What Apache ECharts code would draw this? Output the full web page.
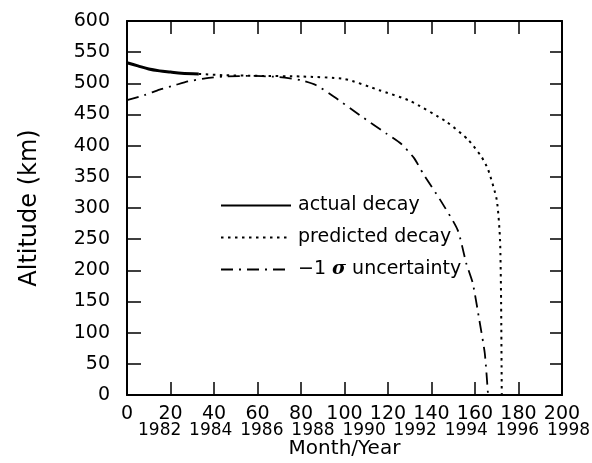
<!DOCTYPE html>
<html>
<head>
<meta charset="utf-8">
<script src="https://cdn.jsdelivr.net/npm/echarts@6/dist/echarts.min.js"></script>
<style>
  html, body { margin: 0; padding: 0; background: #fff; }
  #chart { width: 592px; height: 463px; }
</style>
</head>
<body>
<div id="chart"></div>
<script>
// months since launch vs altitude (km)
var actualMonths = [0, 5, 10, 15, 20, 25, 33]
var actualAlt = [533, 528, 523, 520, 518, 516, 515]

var predictedMonths = [33, 45, 60, 80, 100, 116, 130, 147, 157, 163, 166, 170, 171.5, 172, 172.3]
var predictedAlt = [515, 513, 512, 511, 507, 489, 472, 438, 409, 382, 362, 313, 250, 150, 0]

var uncertMonths = [0, 8, 15, 22, 28, 36, 45, 58, 70, 80, 87, 95, 107, 119, 126, 132, 136, 144, 152, 156, 159, 162, 164.5, 166]
var uncertAlt = [473, 481, 490, 497, 503, 508, 511, 512, 510, 505, 497, 479, 449, 420, 403, 380, 356, 313, 265, 211, 179, 120, 67, 0]

// year row under the month labels: month position of each year label
var yearMonths = [15, 38.5, 62, 85.5, 109, 132.5, 156, 179.5, 203]
var yearLabels = ['1982', '1984', '1986', '1988', '1990', '1992', '1994', '1996', '1998']

function pairs(xs, ys) {
  return xs.map(function(x, i) { return [x, ys[i]] })
}

var font = 'DejaVu Sans'
var chart = echarts.init(document.getElementById('chart'))

var tickStyle = { color: '#000', width: 1.5 }
var frameLine = { show: true, onZero: false, lineStyle: { color: '#000', width: 2 } }

chart.setOption({
  animation: false,
  grid: [
    { left: 127, right: 30, top: 21, bottom: 68, containLabel: false, outerBoundsMode: 'none' },
    // same scale, a bit wider, only to carry the year labels
    { left: 127, right: 8.25, top: 21, bottom: 68, containLabel: false, outerBoundsMode: 'none' }
  ],
  legend: {
    orient: 'vertical',
    left: 215,
    top: 191,
    itemWidth: 70,
    itemHeight: 10,
    itemGap: 13,
    itemStyle: { opacity: 0 },
    textStyle: {
      fontFamily: font,
      fontSize: 19,
      lineHeight: 19,
      color: '#000',
      padding: [0, 0, 0, 2],
      rich: {
        s: { fontFamily: 'DejaVu Serif', fontStyle: 'italic', fontWeight: 'bold', fontSize: 19, color: '#000' }
      }
    },
    formatter: function(name) {
      if (name === 'uncert') return '−1 {s|σ} uncertainty'
      return name
    },
    data: ['actual decay', 'predicted decay', 'uncert']
  },
  xAxis: [
    {
      type: 'value',
      min: 0,
      max: 200,
      interval: 20,
      name: 'Month/Year',
      nameLocation: 'middle',
      nameGap: 44,
      nameTextStyle: { fontFamily: font, fontSize: 20, color: '#000' },
      axisLine: frameLine,
      axisTick: { inside: true, length: 13, lineStyle: tickStyle },
      splitLine: { show: false },
      axisLabel: {
        margin: 10,
        showMaxLabel: true,
        fontFamily: font,
        fontSize: 19,
        color: '#000'
      }
    },
    {
      type: 'value',
      position: 'top',
      min: 0,
      max: 200,
      interval: 20,
      axisLine: frameLine,
      axisTick: { show: true, inside: true, length: 13, lineStyle: tickStyle },
      axisLabel: { show: false },
      splitLine: { show: false }
    },
    {
      type: 'value',
      gridIndex: 1,
      position: 'bottom',
      min: 0,
      max: 210,
      axisLine: { show: false, onZero: false },
      axisTick: { show: false },
      splitLine: { show: false },
      axisLabel: {
        margin: 27,
        customValues: yearMonths,
        showMinLabel: true,
        showMaxLabel: true,
        hideOverlap: false,
        formatter: function(v) {
          return yearLabels[yearMonths.indexOf(v)]
        },
        fontFamily: font,
        fontSize: 17,
        color: '#000'
      }
    }
  ],
  yAxis: [
    {
      type: 'value',
      min: 0,
      max: 600,
      interval: 50,
      name: 'Altitude (km)',
      nameLocation: 'middle',
      nameGap: 85,
      nameTextStyle: { fontFamily: font, fontSize: 24, color: '#000' },
      axisLine: frameLine,
      axisTick: { show: true, inside: true, length: 14, lineStyle: tickStyle },
      splitLine: { show: false },
      axisLabel: {
        margin: 17,
        verticalAlign: 'middle',
        padding: [0, 0, 14, 0],
        fontFamily: font,
        fontSize: 19,
        color: '#000'
      }
    },
    {
      type: 'value',
      position: 'right',
      min: 0,
      max: 600,
      interval: 50,
      axisLine: frameLine,
      axisTick: { show: true, inside: true, length: 12, lineStyle: tickStyle },
      axisLabel: { show: false },
      splitLine: { show: false }
    },
    {
      type: 'value',
      gridIndex: 1,
      min: 0,
      max: 600,
      show: false
    }
  ],
  series: [
    {
      name: 'actual decay',
      type: 'line',
      symbol: 'none',
      smooth: 0.3,
      data: pairs(actualMonths, actualAlt),
      lineStyle: { color: '#000', width: 3 },
      itemStyle: { color: '#000' }
    },
    {
      name: 'predicted decay',
      type: 'line',
      symbol: 'none',
      smooth: 0.2,
      data: pairs(predictedMonths, predictedAlt),
      lineStyle: { color: '#000', width: 2, type: [2.5, 4.5] },
      itemStyle: { color: '#000' }
    },
    {
      name: 'uncert',
      type: 'line',
      symbol: 'none',
      smooth: 0.2,
      data: pairs(uncertMonths, uncertAlt),
      lineStyle: { color: '#000', width: 1.8, type: [12, 6, 2, 6] },
      itemStyle: { color: '#000' }
    }
  ]
})
</script>
</body>
</html>
